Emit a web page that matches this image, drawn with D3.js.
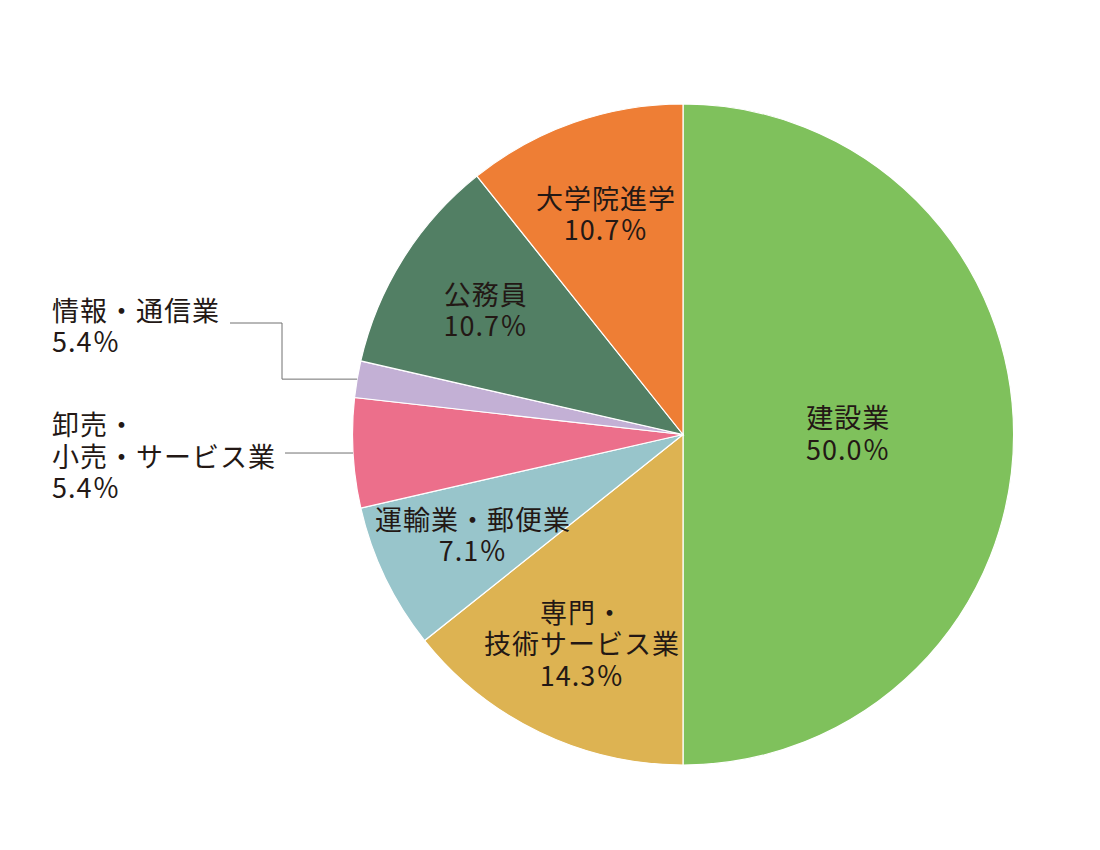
<!DOCTYPE html>
<html lang="ja">
<head>
<meta charset="utf-8">
<script src="https://cdn.jsdelivr.net/npm/d3@7"></script>
<style>
  body { margin: 0; background: #fff; }
  svg { display: block; }
  text { font-family: "Noto Sans CJK JP", "Noto Sans", sans-serif; fill: #231815; }
</style>
</head>
<body>
<svg width="1100" height="850"></svg>
<script>
// 就職先の内訳（56人中）
const categories = ['建設業', '専門・技術サービス業', '運輸業・郵便業', '卸売・小売・サービス業', '情報・通信業', '公務員', '大学院進学'];
const values = [28, 8, 4, 3, 1, 6, 6];
// label text as printed on the chart
const labelLines = [
  ['建設業', '50.0％'],
  ['専門・', '技術サービス業', '14.3％'],
  ['運輸業・郵便業', '7.1％'],
  ['卸売・', '小売・サービス業', '5.4％'],
  ['情報・通信業', '5.4％'],
  ['公務員', '10.7％'],
  ['大学院進学', '10.7％']
];
const colors = ['#7fc15c', '#ddb352', '#98c5cb', '#ec6f8b', '#c3b0d5', '#527f64', '#ee7e35'];

const svg = d3.select('svg');
const cx = 683, cy = 434.5, radius = 330.5;
const fontSize = 27, lineH = 31.5;

const data = categories.map((c, i) => ({ name: c, value: values[i], lines: labelLines[i], color: colors[i] }));

const pie = d3.pie().value(d => d.value).sort(null);
const arc = d3.arc().innerRadius(0).outerRadius(radius);
const arcs = pie(data);

const g = svg.append('g').attr('transform', `translate(${cx},${cy})`);

g.selectAll('path.slice')
  .data(arcs)
  .join('path')
    .attr('class', 'slice')
    .attr('d', arc)
    .attr('fill', d => d.data.color)
    .attr('stroke', '#fff')
    .attr('stroke-width', 1.2);

const share = d => (d.endAngle - d.startAngle) / (2 * Math.PI);
const inner = arcs.filter(d => share(d) > 0.06);
const outer = arcs.filter(d => share(d) <= 0.06);

const drawLines = (sel, anchor) => {
  sel.each(function(d) {
    const n = d.data.lines.length;
    d3.select(this).selectAll('text')
      .data(d.data.lines)
      .join('text')
        .attr('text-anchor', anchor)
        .attr('font-size', fontSize)
        .attr('letter-spacing', 1)
        .attr('y', (t, i) => (i - (n - 1) / 2) * lineH)
        .attr('dy', '0.36em')
        .text(t => t);
  });
};

// labels inside the big slices
g.selectAll('g.inlabel')
  .data(inner)
  .join('g')
    .attr('class', 'inlabel')
    .attr('transform', d => {
      const r = share(d) > 0.4 ? radius * 0.5 : radius * 0.705;
      const [x, y] = d3.arc().innerRadius(r).outerRadius(r).centroid(d);
      return `translate(${x},${y})`;
    })
    .call(drawLines, 'middle');

// small slices: labels outside on the left with leader lines
const textX = 52 - cx;
const outerLayout = {
  '情報・通信業': { blockY: 327 - cy, lineY: 323 - cy, lineFromX: 230 - cx, elbowX: 282 - cx },
  '卸売・小売・サービス業': { blockY: 457 - cy, lineY: null, lineFromX: 285 - cx, elbowX: null }
};

outer.forEach(d => {
  const lay = outerLayout[d.data.name];
  const mid = (d.startAngle + d.endAngle) / 2;
  const ex = radius * Math.sin(mid), ey = -radius * Math.cos(mid);
  const pts = lay.elbowX === null
    ? [[lay.lineFromX, ey], [ex, ey]]
    : [[lay.lineFromX, lay.lineY], [lay.elbowX, lay.lineY], [lay.elbowX, ey], [ex, ey]];
  g.append('path')
    .attr('d', d3.line()(pts))
    .attr('fill', 'none')
    .attr('stroke', '#707070')
    .attr('stroke-width', 1);
  g.append('g')
    .datum(d)
    .attr('transform', `translate(${textX},${lay.blockY})`)
    .call(drawLines, 'start');
});
</script>
</body>
</html>
